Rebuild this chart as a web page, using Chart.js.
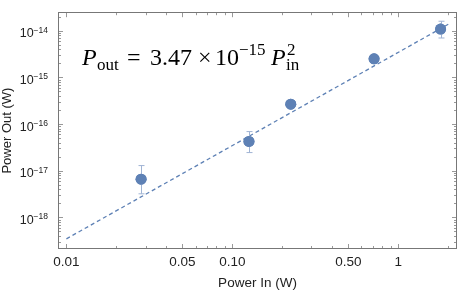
<!DOCTYPE html>
<html>
<head>
<meta charset="utf-8">
<script src="https://cdn.jsdelivr.net/npm/chart.js@4"></script>
<style>
  html, body { margin: 0; padding: 0; background: #fff; }
  #wrap { width: 463px; height: 296px; }
</style>
</head>
<body>
<div id="wrap"><canvas id="chart"></canvas></div>
<script>
// measured points
const powerIn = [0.0282, 0.126, 0.225, 0.715, 1.80];
const powerOut = [6.6e-18, 4.25e-17, 2.67e-16, 2.5e-15, 1.09e-14];
const errLow = [3.2e-18, 2.45e-17, null, null, 7.0e-15];
const errHigh = [1.29e-17, 6.9e-17, null, null, 1.6e-14];

// fit line end points
const fitIn = [0.01, 2.04];
const fitOut = [3.47e-19, 1.43e-14];

const xMajor = [0.01, 0.05, 0.1, 0.5, 1];
const xLabels = ['0.01', '0.05', '0.10', '0.50', '1'];
const xMinor = [0.02, 0.03, 0.04, 0.06, 0.07, 0.08, 0.09, 0.2, 0.3, 0.4, 0.6, 0.7, 0.8, 0.9, 2];
const yMajor = [1e-18, 1e-17, 1e-16, 1e-15, 1e-14];
const yExponents = ['−18', '−17', '−16', '−15', '−14'];
const yMinorMult = [2, 3, 4, 5, 6, 7, 8, 9];
const yMinorDecades = [1e-19, 1e-18, 1e-17, 1e-16, 1e-15, 1e-14];

const BLUE = 'rgb(94, 129, 181)';
const ERR = 'rgb(160, 180, 212)';
const FRAME = '#777';
const TICK = '#999';
const SANS = '"Liberation Sans", Arial, sans-serif';
const SERIF = '"Liberation Serif", "DejaVu Serif", serif';

var yMinor = [];
for (const d of yMinorDecades) {
    for (const m of yMinorMult) yMinor.push(d * m);
}

function isMajor(list, v) {
    return list.some(m => Math.abs(Math.log10(m) - Math.log10(v)) < 1e-6);
}

const framePlugin = {
    id: 'frame',
    afterDatasetsDraw(chart) {
        const ctx = chart.ctx;
        const xs = chart.scales.x, ys = chart.scales.y;
        ctx.save();
        // error bars
        ctx.strokeStyle = ERR;
        ctx.lineWidth = 1;
        for (let i = 0; i < powerIn.length; i++) {
            if (errLow[i] == null) continue;
            const px = Math.round(xs.getPixelForValue(powerIn[i])) + 0.5;
            const y1 = ys.getPixelForValue(errLow[i]);
            const y2 = ys.getPixelForValue(errHigh[i]);
            ctx.beginPath();
            ctx.moveTo(px, y1); ctx.lineTo(px, y2);
            ctx.moveTo(px - 3, y1); ctx.lineTo(px + 3, y1);
            ctx.moveTo(px - 3, y2); ctx.lineTo(px + 3, y2);
            ctx.stroke();
        }
        // points again, on top of the bars
        const meta = chart.getDatasetMeta(1);
        ctx.fillStyle = BLUE;
        for (const el of meta.data) {
            ctx.beginPath();
            ctx.arc(el.x, el.y, 5.5, 0, Math.PI * 2);
            ctx.fill();
        }
        ctx.restore();
    },
    afterDraw(chart) {
        const ctx = chart.ctx;
        const a = chart.chartArea;
        const xs = chart.scales.x, ys = chart.scales.y;
        ctx.save();
        ctx.strokeStyle = TICK;
        ctx.lineWidth = 1;
        ctx.beginPath();
        for (const v of xMajor.concat(xMinor)) {
            const len = isMajor(xMajor, v) ? 5 : 3;
            const px = Math.round(xs.getPixelForValue(v)) + 0.5;
            if (px < a.left || px > a.right) continue;
            ctx.moveTo(px, a.bottom); ctx.lineTo(px, a.bottom - len);
            ctx.moveTo(px, a.top); ctx.lineTo(px, a.top + len);
        }
        for (const v of yMajor.concat(yMinor)) {
            const len = isMajor(yMajor, v) ? 5 : 3;
            const py = Math.round(ys.getPixelForValue(v)) + 0.5;
            if (py < a.top || py > a.bottom) continue;
            ctx.moveTo(a.left, py); ctx.lineTo(a.left + len, py);
            ctx.moveTo(a.right, py); ctx.lineTo(a.right - len, py);
        }
        ctx.stroke();
        ctx.strokeStyle = FRAME;
        ctx.strokeRect(Math.round(a.left) + 0.5, Math.round(a.top) + 0.5,
            Math.round(a.right - a.left) - 1, Math.round(a.bottom - a.top) - 1);

        // y tick labels: 10 with a raised exponent
        ctx.fillStyle = '#222';
        ctx.textBaseline = 'alphabetic';
        for (let i = 0; i < yMajor.length; i++) {
            const py = ys.getPixelForValue(yMajor[i]);
            const right = a.left - 10;
            ctx.font = '8.5px ' + SANS;
            const ew = ctx.measureText(yExponents[i]).width;
            ctx.textAlign = 'left';
            ctx.fillText(yExponents[i], right - ew, py + 2);
            ctx.font = '12.5px ' + SANS;
            ctx.textAlign = 'right';
            ctx.fillText('10', right - ew, py + 6.5);
        }

        // fit equation
        const big = '24px ' + SERIF;
        const bigIt = 'italic 24px ' + SERIF;
        const small = '17px ' + SERIF;
        ctx.fillStyle = '#000';
        ctx.textAlign = 'left';
        const base = 65;
        const parts = [
            [bigIt, 'P', 82, 0], [small, 'out', 97, 5], [big, '=', 127, 0],
            [big, '3.47', 150, 0], [big, '×', 198, 0], [big, '10', 215, 0],
            [small, '−15', 239, -10], [bigIt, 'P', 271, 0],
            [small, 'in', 286, 5], [small, '2', 287, -10]
        ];
        for (const p of parts) {
            ctx.font = p[0];
            ctx.fillText(p[1], p[2], base + p[3]);
        }
        ctx.restore();
    }
};

const ctx = document.getElementById('chart').getContext('2d');
new Chart(ctx, {
    data: {
        datasets: [
            {
                type: 'line',
                data: fitIn.map((v, i) => ({ x: v, y: fitOut[i] })),
                borderColor: BLUE,
                borderWidth: 1.3,
                borderDash: [4, 3],
                pointRadius: 0,
                fill: false
            },
            {
                type: 'scatter',
                data: powerIn.map((v, i) => ({ x: v, y: powerOut[i] })),
                backgroundColor: BLUE,
                borderWidth: 0,
                pointRadius: 5.5
            }
        ]
    },
    options: {
        responsive: true,
        maintainAspectRatio: false,
        animation: false,
        layout: { padding: { top: 4, right: 6, left: 0, bottom: 0 } },
        plugins: {
            legend: { display: false },
            tooltip: { enabled: false }
        },
        scales: {
            x: {
                type: 'logarithmic',
                min: 0.0089,
                max: 2.26,
                afterBuildTicks: (s) => { s.ticks = xMajor.map(v => ({ value: v })); },
                afterFit: (s) => { s.height = 47; },
                ticks: {
                    autoSkip: false,
                    maxRotation: 0,
                    padding: 5,
                    color: '#222',
                    font: { family: SANS, size: 13.5 },
                    callback: (v, i) => xLabels[i]
                },
                grid: { display: false, drawTicks: false },
                border: { display: false },
                title: {
                    display: true,
                    text: 'Power In (W)',
                    color: '#222',
                    padding: { top: 2, bottom: 5 },
                    font: { family: SANS, size: 13.5 }
                }
            },
            y: {
                type: 'logarithmic',
                min: 2.1e-19,
                max: 2.5e-14,
                afterBuildTicks: (s) => { s.ticks = yMajor.map(v => ({ value: v })); },
                afterFit: (s) => { s.width = 58; },
                ticks: {
                    autoSkip: false,
                    padding: 5,
                    callback: () => ''
                },
                grid: { display: false, drawTicks: false },
                border: { display: false },
                title: {
                    display: true,
                    text: 'Power Out (W)',
                    color: '#222',
                    padding: { top: 0, bottom: 0 },
                    font: { family: SANS, size: 13 }
                }
            }
        }
    },
    plugins: [framePlugin]
});
</script>
</body>
</html>
